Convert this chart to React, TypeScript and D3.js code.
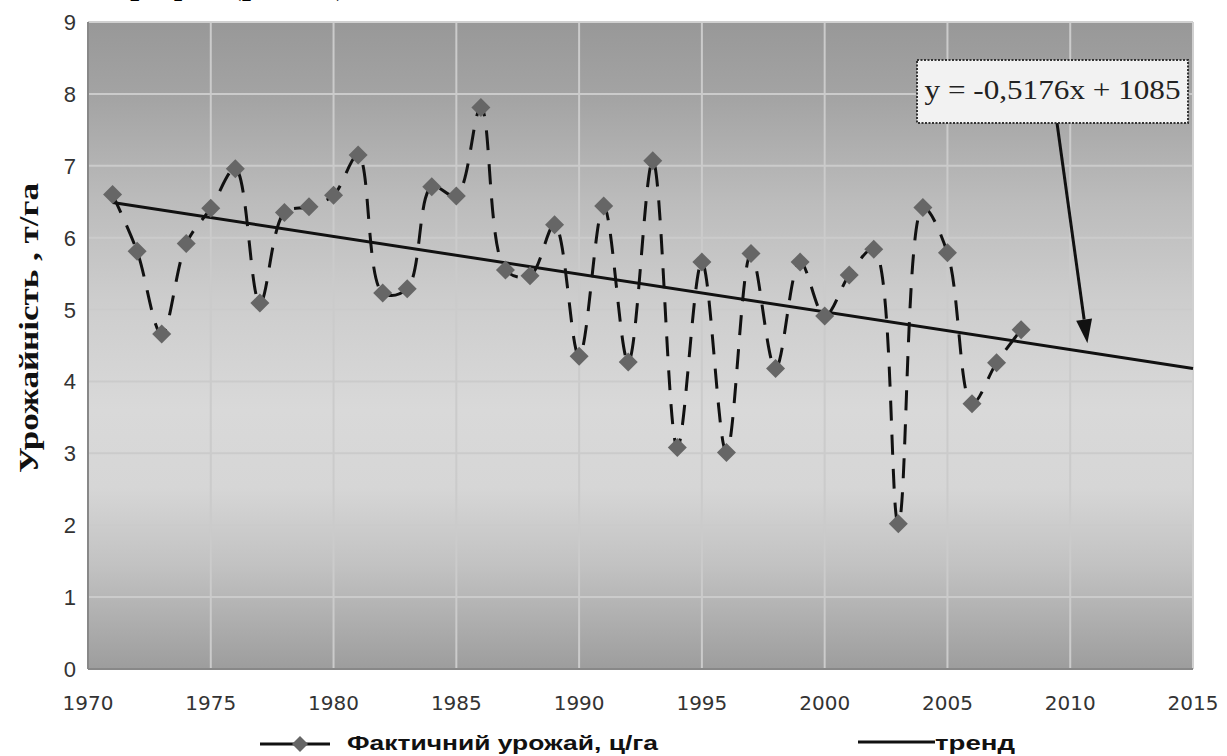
import React from "react";
import * as d3 from "d3";

const years = [1971,1972,1973,1974,1975,1976,1977,1978,1979,1980,1981,1982,1983,1984,1985,1986,1987,1988,1989,1990,1991,1992,1993,1994,1995,1996,1997,1998,1999,2000,2001,2002,2003,2004,2005,2006,2007,2008];
const values = [6.60,5.81,4.66,5.92,6.41,6.96,5.09,6.35,6.43,6.59,7.15,5.23,5.29,6.71,6.58,7.81,5.55,5.47,6.18,4.35,6.44,4.27,7.07,3.08,5.66,3.01,5.78,4.18,5.66,4.91,5.48,5.84,2.02,6.42,5.79,3.69,4.26,4.72];
const trendYears = [1971, 2015];
const trendValues = [6.49, 4.18];
const xTicks = [1970,1975,1980,1985,1990,1995,2000,2005,2010,2015];
const yTicks = [0,1,2,3,4,5,6,7,8,9];
const equationText = "y = -0,5176x + 1085";
const seriesLabel = "Фактичний урожай, ц/га";
const trendLabel = "тренд";
const yAxisTitle = "Урожайність , т/га";
const topFragment = "рафік (рис. 1)";

const W = 1227, H = 756;
const L = 88, R = 1193, T = 22, B = 669;

export default function App() {
  const x = d3.scaleLinear().domain([1970, 2015]).range([L, R]);
  const y = d3.scaleLinear().domain([0, 9]).range([B, T]);
  const pts: [number, number][] = years.map((yr, i) => [x(yr), y(values[i])]);
  const line = d3.line().curve(d3.curveCatmullRom.alpha(0.5))(pts) || "";
  const trend = d3.line()(trendYears.map((yr, i) => [x(yr), y(trendValues[i])] as [number, number])) || "";
  const diamond = (cx: number, cy: number, rx: number, ry: number) =>
    `M${cx},${cy - ry}L${cx + rx},${cy}L${cx},${cy + ry}L${cx - rx},${cy}Z`;

  const boxX0 = 917, boxX1 = 1188, boxY0 = 60, boxY1 = 123;
  const arrowStart: [number, number] = [1057, boxY1];
  const arrowTip: [number, number] = [x(2010.7), y(4.53)];
  const ang = Math.atan2(arrowTip[1] - arrowStart[1], arrowTip[0] - arrowStart[0]);
  const hl = 24, hw = 8;
  const bx = arrowTip[0] - hl * Math.cos(ang), by = arrowTip[1] - hl * Math.sin(ang);
  const head = `M${arrowTip[0]},${arrowTip[1]}L${bx + hw * Math.sin(ang)},${by - hw * Math.cos(ang)}L${bx - hw * Math.sin(ang)},${by + hw * Math.cos(ang)}Z`;

  return (
    <svg width={W} height={H} style={{ position: "absolute", left: 0, top: 0, background: "#fff" }}>
      <defs>
        <linearGradient id="bg" x1="0" y1="0" x2="0" y2="1">
          <stop offset="0" stopColor="#989898" />
          <stop offset="0.12" stopColor="#a4a4a4" />
          <stop offset="0.28" stopColor="#bcbcbc" />
          <stop offset="0.43" stopColor="#cdcdcd" />
          <stop offset="0.6" stopColor="#d9d9d9" />
          <stop offset="0.72" stopColor="#d6d6d6" />
          <stop offset="0.84" stopColor="#c2c2c2" />
          <stop offset="1" stopColor="#9d9d9d" />
        </linearGradient>
      </defs>
      <text x={130} y={-7} fontFamily="Liberation Serif" fontSize={38}>{topFragment}</text>
      <rect x={L} y={T} width={R - L} height={B - T} fill="url(#bg)" />
      {xTicks.slice(1, -1).map((t) => (
        <line key={"gx" + t} x1={x(t)} x2={x(t)} y1={T} y2={B} stroke="#cbcbcb" strokeWidth={2} />
      ))}
      {yTicks.slice(1, -1).map((t) => (
        <line key={"gy" + t} x1={L} x2={R} y1={y(t)} y2={y(t)} stroke="#cbcbcb" strokeWidth={2} />
      ))}
      <line x1={L} x2={R} y1={T} y2={T} stroke="#d0d0d0" strokeWidth={2} />
      <line x1={R} x2={R} y1={T} y2={B} stroke="#d0d0d0" strokeWidth={2} />
      <line x1={L} x2={L} y1={T} y2={B} stroke="#888" strokeWidth={2} />
      <line x1={L} x2={R} y1={B} y2={B} stroke="#888" strokeWidth={2} />

      <path d={line} fill="none" stroke="#111" strokeWidth={3} strokeDasharray="20 14" />
      <path d={trend} fill="none" stroke="#111" strokeWidth={3} />
      {pts.map(([cx, cy], i) => (
        <path key={"m" + i} d={diamond(cx, cy, 9.5, 9.5)} fill="#666" />
      ))}

      <line x1={arrowStart[0]} y1={arrowStart[1]} x2={bx} y2={by} stroke="#111" strokeWidth={3} />
      <path d={head} fill="#111" />
      <rect x={boxX0} y={boxY0} width={boxX1 - boxX0} height={boxY1 - boxY0} fill="#f2f2f2" stroke="#333" strokeWidth={2} strokeDasharray="2 1.5" />
      <text x={(boxX0 + boxX1) / 2} y={99} textAnchor="middle" fontFamily="Liberation Serif" fontSize={28} fill="#222" textLength={256} lengthAdjust="spacingAndGlyphs">{equationText}</text>

      {yTicks.map((t) => (
        <text key={"yt" + t} x={76} y={y(t) + 8} textAnchor="end" fontFamily="Liberation Sans" fontSize={22} fill="#333">{t}</text>
      ))}
      {xTicks.map((t) => (
        <text key={"xt" + t} x={x(t)} y={710} textAnchor="middle" fontFamily="DejaVu Sans" fontSize={20} fill="#333">{t}</text>
      ))}

      <text transform={`translate(38,${328}) rotate(-90)`} textAnchor="middle" fontFamily="Liberation Serif" fontWeight="bold" fontSize={28} fill="#111" textLength={290} lengthAdjust="spacingAndGlyphs">{yAxisTitle}</text>

      <line x1={260} x2={330} y1={744} y2={744} stroke="#111" strokeWidth={3} />
      <path d={diamond(300, 744, 8, 8)} fill="#666" />
      <text x={347} y={750} fontFamily="Liberation Sans" fontWeight="bold" fontSize={21} fill="#111" textLength={311} lengthAdjust="spacingAndGlyphs">{seriesLabel}</text>
      <line x1={858} x2={935} y1={742} y2={742} stroke="#111" strokeWidth={3} />
      <text x={935} y={750} fontFamily="Liberation Sans" fontWeight="bold" fontSize={21} fill="#111" textLength={80} lengthAdjust="spacingAndGlyphs">{trendLabel}</text>
    </svg>
  );
}
